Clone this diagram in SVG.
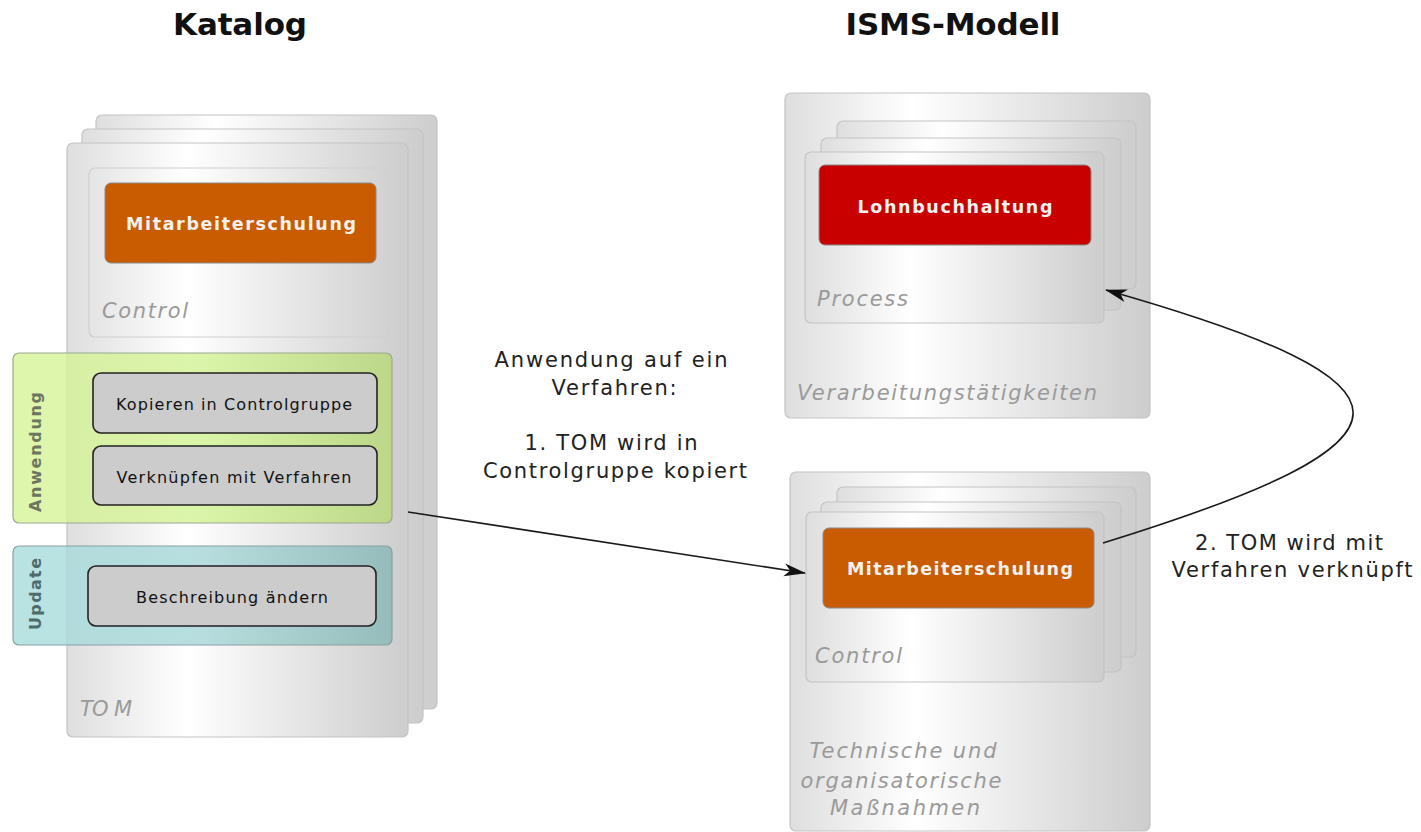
<svg xmlns="http://www.w3.org/2000/svg" width="1421" height="832" viewBox="0 0 1421 832">
<style>
.card{fill:url(#cardGrad);stroke:#c4c4c4;stroke-width:1.2}
.title{font-family:"DejaVu Sans",sans-serif;font-weight:bold;font-size:31px;fill:#111;text-anchor:middle}
.italic{font-family:"DejaVu Sans",sans-serif;font-style:italic;font-size:21px;fill:#9a9a9a}
.boxlbl{font-family:"DejaVu Sans",sans-serif;font-weight:bold;font-size:17.5px;fill:#f2f2f2;text-anchor:middle}
.actlbl{font-family:"DejaVu Sans",sans-serif;font-size:16px;fill:#111;text-anchor:middle}
.act{fill:#cccccc;stroke:#222;stroke-width:1.6}
.note{font-family:"DejaVu Sans",sans-serif;font-size:21px;fill:#222;text-anchor:middle}
.vert{font-family:"DejaVu Sans",sans-serif;font-weight:bold;font-size:16px;text-anchor:middle}
.conn{fill:none;stroke:#1a1a1a;stroke-width:1.6;marker-end:url(#arrow)}
</style>
<defs>
<linearGradient id="cardGrad" x1="0" y1="0" x2="1" y2="0">
<stop offset="0" stop-color="#dedede"/>
<stop offset="0.35" stop-color="#ffffff"/>
<stop offset="1" stop-color="#cdcdcd"/>
</linearGradient>
<linearGradient id="greenGrad" x1="0" y1="0" x2="1" y2="0">
<stop offset="0" stop-color="#d6f398"/>
<stop offset="0.5" stop-color="#d2f294"/>
<stop offset="1" stop-color="#b8d878"/>
</linearGradient>
<linearGradient id="tealGrad" x1="0" y1="0" x2="1" y2="0">
<stop offset="0" stop-color="#a8dcdc"/>
<stop offset="0.5" stop-color="#a6d6d6"/>
<stop offset="1" stop-color="#88b6b6"/>
</linearGradient>
<marker id="arrow" viewBox="0 0 22 16" refX="21" refY="8" markerWidth="22" markerHeight="16" markerUnits="userSpaceOnUse" orient="auto">
<path d="M0,1.5 L22,8 L0,14.5 L6,8 Z" fill="#111"/>
</marker>
</defs>
<rect width="1421" height="832" fill="#ffffff"/>

<g id="titles">
<text class="title" x="240" y="35" textLength="134" lengthAdjust="spacing">Katalog</text>
<text class="title" x="953" y="35" textLength="215" lengthAdjust="spacing">ISMS-Modell</text>
</g>

<g id="tom-catalog">
<rect class="card" x="96" y="115" width="341" height="594" rx="6"/>
<rect class="card" x="82" y="129" width="341" height="594" rx="6"/>
<rect class="card" x="67" y="143" width="341" height="594" rx="6"/>
<text class="italic" x="80" y="716" textLength="52" lengthAdjust="spacing">TO M</text>
</g>

<g id="control-catalog">
<rect class="card" x="89" y="168" width="300" height="169" rx="6" style="fill:none;stroke:#cfcfcf"/>
<text class="italic" x="102" y="318" textLength="86" lengthAdjust="spacing">Control</text>
</g>

<g id="mitarbeiterschulung-catalog">
<rect x="105" y="183" width="271" height="80" rx="6" fill="#c95c00" stroke="#8a8a8a" stroke-width="1"/>
<text class="boxlbl" x="241" y="230" textLength="230" lengthAdjust="spacing">Mitarbeiterschulung</text>
</g>

<g id="anwendung">
<rect x="13" y="353" width="379" height="170" rx="6" fill="url(#greenGrad)" fill-opacity="0.8" stroke="#9aa890" stroke-width="1.2"/>
<text class="vert" transform="translate(41,452) rotate(-90)" fill="#6b7560" textLength="120" lengthAdjust="spacing">Anwendung</text>
</g>

<g id="kopieren">
<rect class="act" x="93" y="373" width="284" height="60" rx="8"/>
<text class="actlbl" x="234" y="410" textLength="236" lengthAdjust="spacing">Kopieren in Controlgruppe</text>
</g>

<g id="verknuepfen">
<rect class="act" x="93" y="446" width="284" height="59" rx="8"/>
<text class="actlbl" x="234" y="483" textLength="235" lengthAdjust="spacing">Verknüpfen mit Verfahren</text>
</g>

<g id="update">
<rect x="13" y="546" width="379" height="99" rx="6" fill="url(#tealGrad)" fill-opacity="0.8" stroke="#8aa0a0" stroke-width="1.2"/>
<text class="vert" transform="translate(41,594) rotate(-90)" fill="#4f6a6a" textLength="72" lengthAdjust="spacing">Update</text>
</g>

<g id="beschreibung">
<rect class="act" x="88" y="566" width="288" height="60" rx="8"/>
<text class="actlbl" x="232" y="603" textLength="192" lengthAdjust="spacing">Beschreibung ändern</text>
</g>

<g id="verarbeitungstaetigkeiten">
<rect class="card" x="785" y="93" width="365" height="325" rx="6"/>
<text class="italic" x="797" y="400" textLength="300" lengthAdjust="spacing">Verarbeitungstätigkeiten</text>
</g>

<g id="process">
<rect class="card" x="837" y="121" width="299" height="168" rx="6"/>
<rect class="card" x="821" y="138" width="300" height="172" rx="6"/>
<rect class="card" x="805" y="152" width="299" height="171" rx="6"/>
<text class="italic" x="817" y="306" textLength="91" lengthAdjust="spacing">Process</text>
</g>

<g id="lohnbuchhaltung">
<rect x="819" y="165" width="272" height="80" rx="6" fill="#c80000" stroke="#8a8a8a" stroke-width="1"/>
<text class="boxlbl" x="955" y="213" textLength="195" lengthAdjust="spacing">Lohnbuchhaltung</text>
</g>

<g id="tom-model">
<rect class="card" x="790" y="472" width="360" height="359" rx="6"/>
<text class="italic" text-anchor="middle" x="903" y="758" textLength="187" lengthAdjust="spacing">Technische und</text>
<text class="italic" text-anchor="middle" x="901" y="788" textLength="201" lengthAdjust="spacing">organisatorische</text>
<text class="italic" text-anchor="middle" x="905" y="815" textLength="150" lengthAdjust="spacing">Maßnahmen</text>
</g>

<g id="control-model">
<rect class="card" x="837" y="487" width="299" height="170" rx="6"/>
<rect class="card" x="821" y="502" width="300" height="170" rx="6"/>
<rect class="card" x="806" y="512" width="298" height="170" rx="6"/>
<text class="italic" x="815" y="663" textLength="87" lengthAdjust="spacing">Control</text>
</g>

<g id="mitarbeiterschulung-model">
<rect x="823" y="528" width="271" height="80" rx="6" fill="#c95c00" stroke="#8a8a8a" stroke-width="1"/>
<text class="boxlbl" x="960" y="575" textLength="226" lengthAdjust="spacing">Mitarbeiterschulung</text>
</g>

<g id="connectors">
<path class="conn" d="M408,512 L805,573"/>
<path class="conn" d="M1103,543 C1436,440 1436,384 1106,290"/>
<text class="note" x="611" y="367" textLength="233" lengthAdjust="spacing">Anwendung auf ein</text>
<text class="note" x="614" y="395" textLength="125" lengthAdjust="spacing">Verfahren:</text>
<text class="note" x="611" y="450" textLength="173" lengthAdjust="spacing">1. TOM wird in</text>
<text class="note" x="615" y="478" textLength="264" lengthAdjust="spacing">Controlgruppe kopiert</text>
<text class="note" x="1289" y="550" textLength="188" lengthAdjust="spacing">2. TOM wird mit</text>
<text class="note" x="1292" y="577" textLength="241" lengthAdjust="spacing">Verfahren verknüpft</text>
</g>
</svg>
